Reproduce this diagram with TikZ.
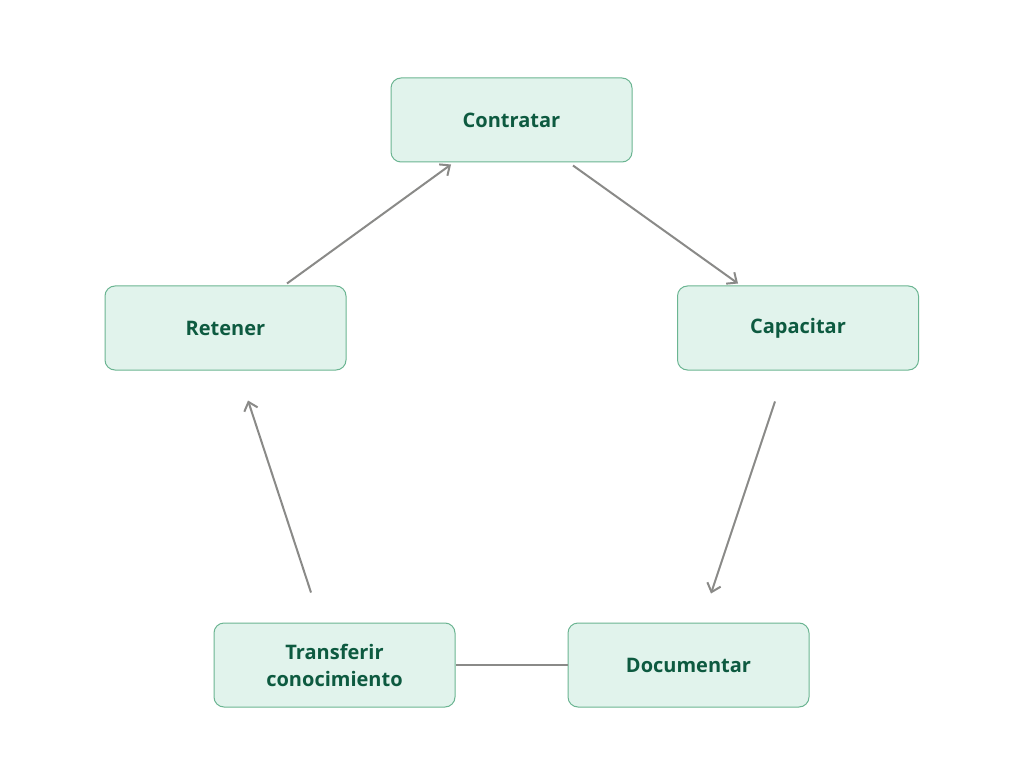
\documentclass[tikz,border=0pt]{standalone}
\usepackage{fontspec}
\setmainfont{Open Sans}
\usetikzlibrary{arrows.meta,calc}
\definecolor{boxfill}{HTML}{E1F3EC}
\definecolor{boxline}{HTML}{6BB592}
\definecolor{boxtext}{HTML}{0D5A40}
\definecolor{arrowc}{HTML}{8A8A88}
\begin{document}
\begin{tikzpicture}[x=1pt,y=-1pt,
  stepbox/.style={draw=boxline, fill=boxfill, line width=1pt, rounded corners=10pt,
    minimum width=241pt, minimum height=84pt, inner sep=0pt, align=center,
    text=boxtext, font=\fontsize{20}{27}\selectfont\bfseries},
  conn/.style={draw=arrowc, line width=2pt, -{Straight Barb[length=8pt,width=14pt,line width=2pt]}},
  plain/.style={draw=arrowc, line width=2pt}]
\useasboundingbox[fill=white] (0,0) rectangle (1024,783);
\node[stepbox] (con) at (511.5,120) {Contratar};
\node[stepbox] (ret) at (225.5,328) {Retener};
\node[stepbox] (cap) at (798,328) {Capacitar};
\node[stepbox] (tra) at (334.5,665) {Transferir\\conocimiento};
\node[stepbox] (doc) at (688.5,665) {Documentar};
\draw[conn] ($(ret.north)+(61.5,-2)$) -- ($(con.south)+(-60.5,2)$);
\draw[conn] ($(con.south)+(61.5,3)$) -- ($(cap.north)+(-60,-2)$);
\draw[conn] ($(cap.south)+(-23,31)$) -- ($(doc.north)+(22.5,-29)$);
\draw[conn] ($(tra.north)+(-23.5,-30)$) -- ($(ret.south)+(22.5,30)$);
\draw[plain] (doc.west) -- (tra.east);
\end{tikzpicture}
\end{document}
